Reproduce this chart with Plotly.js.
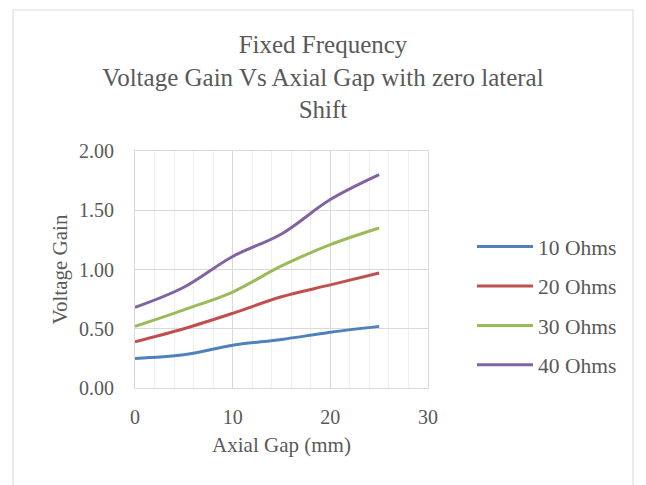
<!DOCTYPE html>
<html>
<head>
<meta charset="utf-8">
<script src="https://cdn.plot.ly/plotly-3.0.1.min.js"></script>
<style>html,body{margin:0;padding:0;background:#fff;}#chart{width:646px;height:485px;}</style>
</head>
<body>
<div id="chart"></div>
<script>
const axialGap = [0, 5, 10, 15, 20, 25];
const gain10 = [0.25, 0.28, 0.36, 0.41, 0.47, 0.52];
const gain20 = [0.39, 0.50, 0.63, 0.77, 0.87, 0.97];
const gain30 = [0.52, 0.66, 0.81, 1.03, 1.21, 1.35];
const gain40 = [0.68, 0.85, 1.11, 1.30, 1.59, 1.80];
const seriesNames = ["10 Ohms", "20 Ohms", "30 Ohms", "40 Ohms"];
const seriesColors = ["#4F81BD", "#C0504D", "#9BBB59", "#8064A2"];
const seriesValues = [gain10, gain20, gain30, gain40];

const textColor = "#595959";
const fontFam = "Liberation Serif, Times New Roman, serif";

const traces = seriesValues.map((vals, i) => ({
  x: axialGap,
  y: vals,
  type: "scatter",
  mode: "lines",
  name: seriesNames[i],
  legendgroup: "g" + i,
  line: {color: seriesColors[i], width: 3, shape: "spline", smoothing: 1},
  hoverinfo: "x+y"
}));

// plot area in pixels
const L = 135, R = 428, T = 151, B = 388;
const W = 646, H = 485;
const px = v => (v - L) / (R - L);
const py = v => (B - v) / (B - T);

const layout = {
  width: W,
  height: H,
  margin: {l: L, r: W - R, t: T, b: H - B, pad: 0},
  paper_bgcolor: "#ffffff",
  plot_bgcolor: "#ffffff",
  font: {family: fontFam, color: textColor, size: 20},
  title: {
    text: "Fixed Frequency<br>Voltage Gain Vs Axial Gap with zero lateral<br>Shift",
    font: {family: fontFam, size: 25, color: textColor},
    x: 0.5, xref: "container", xanchor: "center",
    y: 1 - 53 / H, yref: "container", yanchor: "top",
    pad: {t: 0, b: 0}
  },
  xaxis: {
    range: [0, 30],
    dtick: 10,
    tick0: 0,
    showgrid: true,
    gridcolor: "#D9D9D9",
    gridwidth: 1,
    showline: true,
    mirror: true,
    linecolor: "#D9D9D9",
    linewidth: 1,
    zeroline: false,
    ticks: "outside",
    ticklen: 11,
    tickcolor: "rgba(0,0,0,0)",
    tickfont: {family: fontFam, size: 20, color: textColor},
    minor: {dtick: 2, showgrid: true, gridcolor: "#EEEEEE", gridwidth: 1},
    title: {text: "Axial Gap (mm)", font: {family: fontFam, size: 21, color: textColor}, standoff: 10}
  },
  yaxis: {
    range: [0, 2],
    dtick: 0.5,
    tick0: 0,
    tickformat: ".2f",
    showgrid: true,
    gridcolor: "#D9D9D9",
    gridwidth: 1,
    showline: true,
    mirror: true,
    linecolor: "#D9D9D9",
    linewidth: 1,
    zeroline: false,
    ticks: "outside",
    ticklen: 16,
    tickcolor: "rgba(0,0,0,0)",
    tickfont: {family: fontFam, size: 20, color: textColor},
    title: {text: "Voltage Gain", font: {family: fontFam, size: 21, color: textColor}, standoff: 5}
  },
  legend: {
    x: px(472), xanchor: "left",
    y: py(306), yanchor: "middle",
    font: {family: fontFam, size: 21.5, color: textColor},
    bgcolor: "rgba(0,0,0,0)",
    borderwidth: 0,
    itemwidth: 56,
    tracegroupgap: 8.5
  },
  showlegend: true,
  shapes: [{
    type: "rect",
    xref: "paper", yref: "paper",
    x0: px(13), x1: px(633),
    y0: py(495), y1: py(10),
    line: {color: "#D9D9D9", width: 1},
    fillcolor: "rgba(0,0,0,0)",
    layer: "below"
  }]
};

Plotly.newPlot("chart", traces, layout, {displayModeBar: false, staticPlot: true});
</script>
</body>
</html>
